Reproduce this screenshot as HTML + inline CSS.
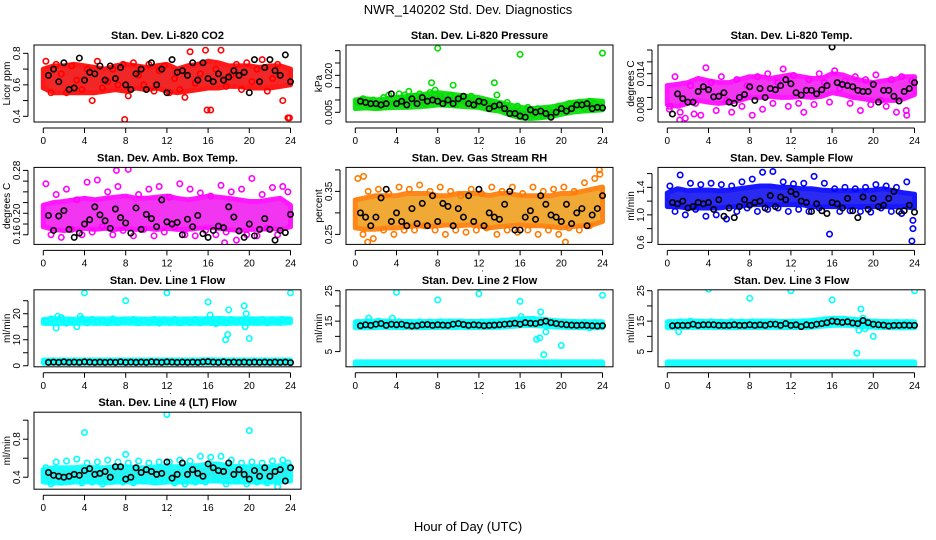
<!DOCTYPE html>
<html><head><meta charset="utf-8"><style>
html,body{margin:0;padding:0;background:#fff;}
svg{display:block;font-family:"Liberation Sans",sans-serif;}
</style></head><body>
<svg id="chart" width="936" height="540" viewBox="0 0 936 540">
<text x="468" y="14" text-anchor="middle" font-size="13">NWR_140202 Std. Dev. Diagnostics</text>
<text x="468" y="531" text-anchor="middle" font-size="13">Hour of Day (UTC)</text>
</svg>
<script>
const xTicks = [0,4,8,12,16,20,24];

const co2Lo = [0.58,0.55,0.55,0.55,0.55,0.55,0.56,0.57,0.56,0.58,0.57,0.58,0.56,0.55,0.56,0.57,0.58,0.58,0.59,0.59,0.58,0.58,0.58,0.59,0.6];
const co2Hi = [0.70,0.72,0.72,0.73,0.72,0.71,0.70,0.72,0.73,0.72,0.71,0.72,0.73,0.70,0.72,0.73,0.75,0.74,0.72,0.72,0.72,0.71,0.72,0.72,0.70];
const co2Pts = [0.75,0.55,0.73,0.67,0.55,0.72,0.63,0.57,0.7,0.5,0.75,0.58,0.62,0.7,0.6,0.73,0.53,0.74,0.66,0.6,0.73,0.56,0.69,0.72,0.55,0.64,0.57,0.52,0.81,0.61,0.67,0.82,0.44,0.7,0.82,0.59,0.66,0.73,0.57,0.74,0.62,0.7,0.76,0.56,0.64,0.73,0.5,0.39];
const co2Blk = [0.66,0.7,0.62,0.74,0.57,0.58,0.77,0.63,0.68,0.67,0.72,0.63,0.72,0.64,0.71,0.6,0.57,0.67,0.70,0.57,0.74,0.6,0.7,0.55,0.76,0.68,0.69,0.66,0.74,0.63,0.74,0.64,0.62,0.67,0.63,0.65,0.69,0.66,0.68,0.55,0.76,0.62,0.71,0.76,0.69,0.66,0.79,0.62];
const co2OutX = [7.9,15.9,23.9];
const co2OutY = [0.38,0.44,0.39];

const prLo = [0.0065,0.0068,0.0065,0.0068,0.0070,0.0070,0.0072,0.0075,0.0080,0.0078,0.0075,0.0072,0.0070,0.0060,0.0055,0.0040,0.0028,0.0025,0.0028,0.0033,0.0042,0.0050,0.0055,0.0057,0.0060];
const prHi = [0.0100,0.0105,0.0100,0.0105,0.0110,0.0115,0.0120,0.0125,0.0130,0.0125,0.0120,0.0115,0.0110,0.0100,0.0090,0.0080,0.0070,0.0065,0.0068,0.0072,0.0080,0.0090,0.0095,0.0098,0.0095];
const prPts = [0.009,0.0105,0.008,0.010,0.0075,0.011,0.012,0.0085,0.0125,0.009,0.010,0.0115,0.0125,0.0085,0.013,0.014,0.0115,0.0095,0.012,0.008,0.0105,0.009,0.0115,0.008,0.0095,0.0085,0.0075,0.012,0.0065,0.009,0.005,0.0075,0.0045,0.007,0.004,0.0065,0.0035,0.006,0.005,0.0075,0.006,0.0085,0.0075,0.009,0.0065,0.0095,0.0085,0.0075];
const prBlk = [0.0095,0.009,0.0085,0.0085,0.008,0.0085,0.0125,0.0085,0.0095,0.008,0.0105,0.0085,0.011,0.0095,0.01,0.0095,0.0085,0.01,0.0085,0.0105,0.0115,0.0085,0.0080,0.0095,0.009,0.0065,0.0075,0.008,0.0065,0.0045,0.0045,0.0035,0.0030,0.0060,0.0050,0.0055,0.0045,0.0030,0.0050,0.0065,0.0055,0.0065,0.0080,0.0080,0.0085,0.0065,0.0070,0.0068];
const prOutX = [8,16,24,13.5,7.4,9.5,5.2,4.8];
const prOutY = [0.031,0.0285,0.029,0.017,0.017,0.016,0.0135,0.012];

const tmLo = [0.0088,0.0085,0.009,0.0095,0.0092,0.0090,0.0092,0.0095,0.0100,0.0100,0.0102,0.0100,0.0100,0.0102,0.0100,0.0102,0.0108,0.0105,0.0100,0.0098,0.0095,0.0095,0.0095,0.0098,0.0105];
const tmHi = [0.0120,0.0122,0.0125,0.0132,0.0128,0.0125,0.0125,0.0130,0.0135,0.0135,0.0132,0.0135,0.0138,0.0135,0.0132,0.0132,0.0140,0.0138,0.0132,0.0128,0.0125,0.0128,0.0130,0.0135,0.0135];
const tmPts = [0.0085,0.0135,0.0075,0.0065,0.0120,0.0090,0.0070,0.0150,0.0125,0.0078,0.0135,0.0095,0.0075,0.0130,0.0085,0.0120,0.0070,0.0135,0.0080,0.0140,0.0090,0.0125,0.0148,0.0085,0.0137,0.0090,0.0075,0.0130,0.0088,0.0140,0.0125,0.0092,0.0145,0.0115,0.0128,0.0090,0.0135,0.0078,0.0130,0.0088,0.0138,0.0095,0.0085,0.0130,0.0075,0.0135,0.0070,0.0128];
const tmBlk = [0.0072,0.0106,0.0098,0.0092,0.0092,0.0110,0.0118,0.0113,0.0101,0.0102,0.0108,0.0092,0.0090,0.0100,0.0105,0.0118,0.0095,0.0115,0.0100,0.0115,0.0113,0.0120,0.0130,0.0123,0.0108,0.0104,0.0112,0.0112,0.0106,0.0113,0.0120,0.0185,0.0125,0.0122,0.0120,0.0118,0.0112,0.0110,0.0110,0.0122,0.0092,0.0112,0.0112,0.0102,0.0094,0.0110,0.0115,0.0125];
const tmOutX = [1.2,2.6,0.2,23.2];
const tmOutY = [0.0062,0.0072,0.0080,0.0078];

const abLo = [0.175,0.170,0.168,0.170,0.172,0.170,0.172,0.170,0.172,0.170,0.172,0.170,0.172,0.170,0.170,0.172,0.174,0.172,0.170,0.168,0.170,0.170,0.172,0.170,0.175];
const abHi = [0.215,0.220,0.222,0.225,0.228,0.225,0.228,0.230,0.232,0.228,0.228,0.230,0.232,0.228,0.225,0.228,0.232,0.230,0.228,0.225,0.222,0.222,0.225,0.228,0.215];
const abPts = [0.255,0.160,0.235,0.155,0.245,0.170,0.225,0.160,0.258,0.165,0.262,0.175,0.240,0.160,0.250,0.168,0.282,0.158,0.235,0.170,0.245,0.158,0.250,0.165,0.230,0.175,0.255,0.160,0.245,0.158,0.238,0.168,0.232,0.160,0.252,0.165,0.240,0.150,0.245,0.160,0.265,0.158,0.235,0.172,0.248,0.160,0.250,0.240];
const abBlk = [0.196,0.168,0.195,0.205,0.170,0.155,0.163,0.180,0.188,0.212,0.197,0.186,0.172,0.208,0.192,0.182,0.163,0.210,0.170,0.198,0.190,0.175,0.225,0.184,0.180,0.183,0.160,0.189,0.175,0.196,0.162,0.155,0.168,0.176,0.173,0.212,0.193,0.167,0.155,0.180,0.158,0.170,0.190,0.170,0.150,0.168,0.164,0.198];
const abOutX = [7.1,17.6];
const abOutY = [0.28,0.145];

const rhLo = [0.265,0.262,0.262,0.265,0.265,0.268,0.270,0.268,0.270,0.272,0.270,0.272,0.270,0.265,0.268,0.270,0.272,0.270,0.270,0.268,0.265,0.268,0.270,0.272,0.280];
const rhHi = [0.33,0.335,0.34,0.34,0.34,0.345,0.345,0.345,0.34,0.34,0.345,0.345,0.345,0.34,0.345,0.345,0.34,0.34,0.34,0.34,0.345,0.345,0.35,0.355,0.36];
const rhPts = [0.38,0.25,0.35,0.24,0.355,0.26,0.345,0.25,0.36,0.26,0.355,0.26,0.365,0.27,0.35,0.26,0.36,0.25,0.35,0.26,0.34,0.255,0.355,0.26,0.345,0.265,0.36,0.25,0.35,0.26,0.36,0.255,0.345,0.26,0.36,0.25,0.35,0.26,0.355,0.25,0.36,0.265,0.35,0.26,0.37,0.27,0.38,0.39];
const rhBlk = [0.30,0.29,0.27,0.29,0.335,0.355,0.28,0.30,0.28,0.27,0.31,0.275,0.322,0.27,0.34,0.28,0.322,0.315,0.27,0.31,0.29,0.34,0.28,0.355,0.27,0.30,0.29,0.285,0.32,0.35,0.26,0.26,0.29,0.305,0.285,0.34,0.32,0.295,0.29,0.28,0.32,0.275,0.30,0.31,0.27,0.295,0.31,0.34];
const rhOutX = [1.2,20.4,0.8,23.7];
const rhOutY = [0.232,0.232,0.385,0.40];

const sfLo = [1.12,1.12,1.1,1.1,1.1,1.1,1.12,1.12,1.15,1.15,1.15,1.15,1.15,1.15,1.12,1.12,1.12,1.12,1.12,1.12,1.12,1.12,1.12,1.12,1.1];
const sfHi = [1.32,1.38,1.35,1.36,1.36,1.35,1.36,1.38,1.40,1.42,1.42,1.40,1.40,1.38,1.38,1.36,1.35,1.35,1.35,1.35,1.36,1.38,1.35,1.32,1.30];
const sfPts = [1.42,1.05,1.58,1.0,1.46,1.08,1.44,0.98,1.46,1.0,1.44,0.94,1.42,1.05,1.48,1.10,1.52,1.05,1.62,1.08,1.63,1.1,1.48,1.05,1.45,1.08,1.46,1.05,1.56,1.10,1.46,0.72,1.38,1.05,1.4,1.06,1.38,1.05,1.40,1.04,1.44,1.1,1.42,1.05,1.4,1.02,1.48,0.62];
const sfBlk = [1.18,1.16,1.20,1.10,1.12,1.18,1.16,1.18,1.08,1.22,0.98,1.10,0.96,1.12,1.22,1.14,1.18,1.20,1.10,1.28,1.12,1.26,1.22,1.34,1.30,1.20,1.18,1.05,1.16,1.06,1.02,1.18,1.16,1.10,1.24,1.06,0.96,1.26,1.08,1.24,1.12,1.14,1.24,1.34,1.05,1.06,1.14,1.04];
const sfOutX = [23.85,23.85];
const sfOutY = [0.92,0.80];

const l1Lo = [16.3,16.2,16.3,16.3,16.4,16.3,16.3,16.3,16.4,16.3,16.3,16.3,16.4,16.3,16.3,16.3,16.4,16.3,16.3,16.4,16.3,16.3,16.4,16.3,16.5];
const l1Hi = [17.8,18.0,18.0,17.9,18.0,18.0,18.0,17.9,18.0,18.0,17.9,18.0,18.0,17.9,18.0,18.0,18.1,18.2,18.0,18.0,18.0,18.0,18.0,18.1,18.0];
const l1Lo2 = [1.0,1.0,1.0,1.0,1.0,1.0,1.0,1.0,1.0,1.0,1.0,1.0,1.0,1.0,1.0,1.0,1.0,1.0,1.0,1.0,1.0,1.0,1.0,1.0,1.0];
const l1Hi2 = [2.2,2.2,2.2,2.2,2.2,2.2,2.2,2.2,2.2,2.2,2.2,2.2,2.2,2.2,2.2,2.2,2.3,2.2,2.2,2.2,2.2,2.2,2.2,2.2,2.2];
const l1Pts = [17.2,18.0,14.5,18.5,16.4,17.5,15.0,18.0,16.5,17.8,16.8,17.3,16.5,18.0,16.6,17.4,16.8,17.8,16.5,17.5,16.6,17.8,16.4,17.5,16.6,17.8,16.5,17.4,16.7,17.8,16.5,17.5,16.6,16.2,17.4,16.5,17.8,16.8,17.5,16.6,17.5,16.7,17.8,16.5,17.6,16.8,17.8,17.5];
const l1Blk = [1.3,1.4,1.3,1.5,1.3,1.4,1.3,1.5,1.4,1.3,1.4,1.3,1.4,1.3,1.5,1.3,1.4,1.3,1.4,1.3,1.5,1.4,1.3,1.5,1.4,1.3,1.4,1.3,1.4,1.3,1.5,1.6,1.4,1.3,1.5,1.3,1.4,1.3,1.4,1.3,1.4,1.3,1.4,1.3,1.4,1.3,1.4,1.2];
const l1OutX = [1.4,3.6,4,8,12,16,16.2,17.7,17.9,18,19.5,19.6,19.7,20,24];
const l1OutY = [19,19,28,25,28,24.5,19.5,10,12,21.5,23,15,20,10.5,28];

const l2Lo = [12.8,12.8,12.9,13.0,12.9,12.9,12.8,12.9,12.9,12.9,13.0,12.9,12.9,12.9,13.0,13.2,13.5,13.6,13.4,13.2,13.0,12.9,12.8,12.8,12.8];
const l2Hi = [14.8,14.9,15.0,15.0,14.9,14.9,14.8,14.9,14.9,15.0,15.0,14.9,14.9,15.0,15.1,15.4,15.8,15.9,15.6,15.3,15.0,14.9,14.8,14.8,14.8];
const l2Lo2 = [0.4,0.4,0.4,0.4,0.4,0.4,0.4,0.4,0.4,0.4,0.4,0.4,0.4,0.4,0.4,0.4,0.4,0.4,0.4,0.4,0.4,0.4,0.4,0.4,0.4];
const l2Hi2 = [1.6,1.6,1.6,1.6,1.6,1.6,1.6,1.6,1.6,1.6,1.6,1.6,1.6,1.6,1.6,1.6,1.6,1.6,1.6,1.6,1.6,1.6,1.6,1.6,1.6];
const l2Pts = [14.5,13.5,14.8,13.2,15.0,13.5,14.6,13.4,14.8,13.3,14.6,13.5,14.8,13.3,14.7,13.5,14.8,13.4,14.6,13.3,14.7,13.4,14.6,13.5,14.7,13.4,14.8,13.5,15.0,13.8,15.2,14.0,15.4,14.2,15.6,14.5,15.2,14.0,14.8,13.6,14.6,13.4,14.5,13.3,14.6,12.8,14.5,13.4];
const l2Blk = [13.5,13.8,13.6,14.0,14.2,13.6,14.0,13.8,14.0,13.6,13.4,13.5,13.8,13.9,13.6,13.8,13.7,13.6,14.0,14.2,13.9,13.6,13.8,13.7,13.5,13.6,13.7,13.8,14.0,14.1,14.3,14.0,14.5,14.3,14.2,14.6,15.0,14.5,14.2,14.0,13.8,13.7,13.6,13.7,13.6,13.5,13.4,13.5];
const l2OutX = [1.3,3.6,4,8,12,16,16.1,17.6,17.9,18,18.3,18.5,20,24];
const l2OutY = [16,16,24.5,22,24,21.5,16.5,9,9.5,18,4,11.5,7,23.5];

const l3Lo = [12.8,12.8,12.9,13.0,12.9,12.9,12.8,12.9,12.9,12.9,13.0,12.9,12.9,12.9,13.0,13.3,13.6,13.7,13.5,13.2,13.0,12.9,12.8,12.8,12.8];
const l3Hi = [14.8,14.9,15.0,15.0,14.9,14.9,14.8,14.9,14.9,15.0,15.0,14.9,14.9,15.0,15.2,15.6,15.9,15.9,15.6,15.3,15.0,14.9,14.8,14.8,14.8];
const l3Lo2 = [0.4,0.4,0.4,0.4,0.4,0.4,0.4,0.4,0.4,0.4,0.4,0.4,0.4,0.4,0.4,0.4,0.4,0.4,0.4,0.4,0.4,0.4,0.4,0.4,0.4];
const l3Hi2 = [1.6,1.6,1.6,1.6,1.6,1.6,1.6,1.6,1.6,1.6,1.6,1.6,1.6,1.6,1.6,1.6,1.6,1.6,1.6,1.6,1.6,1.6,1.6,1.6,1.6];
const l3Pts = [14.5,13.5,14.8,13.2,15.0,13.5,14.6,13.4,14.8,13.3,14.6,13.5,14.8,13.3,14.7,13.5,14.8,13.4,14.6,13.3,14.7,13.4,14.6,13.5,14.7,13.4,14.8,13.5,15.0,13.8,15.2,14.0,15.4,14.2,15.6,14.5,15.2,14.0,14.8,13.6,14.6,13.4,14.5,13.3,14.6,13.2,14.5,13.4];
const l3Blk = [13.5,13.6,13.6,13.6,14.0,13.6,13.8,13.8,13.8,13.6,13.6,13.6,13.8,13.6,13.6,13.8,13.6,13.8,13.6,14.0,14.0,13.6,14.2,13.6,13.8,13.2,13.8,13.6,14.0,14.2,14.5,15.0,14.8,14.6,14.8,14.4,14.2,15.2,14.5,14.0,13.8,13.7,13.4,13.6,13.6,13.7,13.6,13.6];
const l3OutX = [1.1,4,8,12,16,18.4,18.6,18.8,19,19.2,20,24];
const l3OutY = [11.5,25.5,22.5,25,22,4.5,12,19,16,12.5,10,25];

const l4Lo = [0.35,0.34,0.34,0.35,0.35,0.35,0.34,0.35,0.35,0.35,0.35,0.34,0.35,0.35,0.35,0.35,0.36,0.36,0.35,0.35,0.35,0.35,0.35,0.35,0.36];
const l4Hi = [0.48,0.50,0.50,0.50,0.51,0.50,0.50,0.51,0.51,0.50,0.50,0.51,0.51,0.51,0.52,0.52,0.54,0.54,0.52,0.51,0.51,0.51,0.51,0.52,0.52];
const l4Pts = [0.5,0.33,0.56,0.35,0.57,0.36,0.59,0.34,0.55,0.35,0.56,0.33,0.58,0.36,0.56,0.35,0.55,0.34,0.57,0.36,0.55,0.35,0.56,0.36,0.56,0.34,0.58,0.33,0.57,0.35,0.62,0.35,0.61,0.37,0.62,0.33,0.58,0.36,0.55,0.33,0.56,0.35,0.55,0.34,0.57,0.30,0.58,0.55];
const l4Blk = [0.45,0.42,0.41,0.40,0.41,0.43,0.42,0.47,0.49,0.43,0.44,0.46,0.40,0.51,0.51,0.38,0.40,0.50,0.45,0.48,0.46,0.43,0.44,0.56,0.39,0.43,0.55,0.43,0.48,0.44,0.41,0.54,0.50,0.47,0.46,0.55,0.43,0.48,0.43,0.38,0.47,0.41,0.50,0.41,0.46,0.48,0.36,0.50];
const l4OutX = [4,8,12,20];
const l4OutY = [0.87,0.64,1.06,0.89];

const co2Ticks = [0.4,0.5,0.6,0.7,0.8];  const co2Labels = ["0.4","","0.6","","0.8"];
const prTicks = [0.005,0.010,0.015,0.020,0.025,0.030]; const prLabels = ["0.005","","","0.020","",""];
const tmTicks = [0.008,0.010,0.012,0.014,0.016,0.018]; const tmLabels = ["0.008","","","0.014","",""];
const abTicks = [0.16,0.18,0.20,0.22,0.24,0.26,0.28]; const abLabels = ["0.16","","0.20","","","","0.28"];
const rhTicks = [0.25,0.30,0.35,0.40]; const rhLabels = ["0.25","","0.35",""];
const sfTicks = [0.6,0.8,1.0,1.2,1.4,1.6]; const sfLabels = ["0.6","","1.0","","1.4",""];
const l1Ticks = [0,5,10,15,20,25]; const l1Labels = ["0","","10","","20",""];
const l2Ticks = [5,10,15,20,25]; const l2Labels = ["5","","15","","25"];
const l4Ticks = [0.4,0.6,0.8,1.0]; const l4Labels = ["0.4","","0.8",""];

const panels = [
 {name:"co2",title:"Stan. Dev. Li-820 CO2",ylab:"Licor ppm",col:0,row:0,ymin:0.364,ymax:0.853,color:"#ff0000",band:"#f01010",lo:co2Lo,hi:co2Hi,pts:co2Pts,blk:co2Blk,ox:co2OutX,oy:co2OutY,ticks:co2Ticks,labels:co2Labels},
 {name:"pressure",title:"Stan. Dev. Li-820 Pressure",ylab:"kPa",col:1,row:0,ymin:0.00107,ymax:0.0323,color:"#00dd00",band:"#10c010",lo:prLo,hi:prHi,pts:prPts,blk:prBlk,ox:prOutX,oy:prOutY,ticks:prTicks,labels:prLabels},
 {name:"li820-temp",title:"Stan. Dev. Li-820 Temp.",ylab:"degrees C",col:2,row:0,ymin:0.00586,ymax:0.01884,color:"#ff00ff",band:"#f020f0",lo:tmLo,hi:tmHi,pts:tmPts,blk:tmBlk,ox:tmOutX,oy:tmOutY,ticks:tmTicks,labels:tmLabels},
 {name:"amb-box-temp",title:"Stan. Dev. Amb. Box Temp.",ylab:"degrees C",col:0,row:1,ymin:0.142,ymax:0.2856,color:"#ff00ff",band:"#f020f0",lo:abLo,hi:abHi,pts:abPts,blk:abBlk,ox:abOutX,oy:abOutY,ticks:abTicks,labels:abLabels},
 {name:"gas-rh",title:"Stan. Dev. Gas Stream RH",ylab:"percent",col:1,row:1,ymin:0.2267,ymax:0.4058,color:"#ff7a00",band:"#f0a020",lo:rhLo,hi:rhHi,pts:rhPts,blk:rhBlk,ox:rhOutX,oy:rhOutY,ticks:rhTicks,labels:rhLabels},
 {name:"sample-flow",title:"Stan. Dev. Sample Flow",ylab:"ml/min",col:2,row:1,ymin:0.571,ymax:1.69,color:"#0000ff",band:"#1414f0",lo:sfLo,hi:sfHi,pts:sfPts,blk:sfBlk,ox:sfOutX,oy:sfOutY,ticks:sfTicks,labels:sfLabels},
 {name:"line1-flow",title:"Stan. Dev. Line 1 Flow",ylab:"ml/min",col:0,row:2,ymin:-0.4,ymax:29.2,color:"#00ffff",band:"#10f0f0",lo:l1Lo,hi:l1Hi,lo2:l1Lo2,hi2:l1Hi2,pts:l1Pts,blk:l1Blk,ox:l1OutX,oy:l1OutY,ticks:l1Ticks,labels:l1Labels},
 {name:"line2-flow",title:"Stan. Dev. Line 2 Flow",ylab:"ml/min",col:1,row:2,ymin:0,ymax:25.3,color:"#00ffff",band:"#10f0f0",lo:l2Lo,hi:l2Hi,lo2:l2Lo2,hi2:l2Hi2,pts:l2Pts,blk:l2Blk,ox:l2OutX,oy:l2OutY,ticks:l2Ticks,labels:l2Labels},
 {name:"line3-flow",title:"Stan. Dev. Line 3 Flow",ylab:"ml/min",col:2,row:2,ymin:0,ymax:25.3,color:"#00ffff",band:"#10f0f0",lo:l3Lo,hi:l3Hi,lo2:l3Lo2,hi2:l3Hi2,pts:l3Pts,blk:l3Blk,ox:l3OutX,oy:l3OutY,ticks:l2Ticks,labels:l2Labels},
 {name:"line4-flow",title:"Stan. Dev. Line 4 (LT) Flow",ylab:"ml/min",col:0,row:3,ymin:0.274,ymax:1.084,color:"#00ffff",band:"#10f0f0",lo:l4Lo,hi:l4Hi,pts:l4Pts,blk:l4Blk,ox:l4OutX,oy:l4OutY,ticks:l4Ticks,labels:l4Labels}
];

const NS = "http://www.w3.org/2000/svg";
const svg = document.getElementById("chart");
function mk(tag, attrs, parent){
  const e = document.createElementNS(NS, tag);
  for (const k in attrs) e.setAttribute(k, attrs[k]);
  parent.appendChild(e);
  return e;
}
const BOX_W = 267, BOX_H = 77;
panels.forEach(p => {
  const bx = 34 + p.col*312, by = 45 + p.row*122.4;
  const g = mk("g", {}, svg);
  
  
  const xs = h => bx + 9.3 + h*10.3;
  const ys = v => by + BOX_H - (v - p.ymin)/(p.ymax - p.ymin)*BOX_H;
  const clip = "clip-" + p.name;
  const cp = mk("clipPath", {id: clip}, g);
  mk("rect", {x: bx, y: by, width: BOX_W, height: BOX_H}, cp);
  const plot = mk("g", {"clip-path": "url(#" + clip + ")"}, g);
  
  
  function band(lo, hi){
    let d = "";
    for (let i = 0; i < lo.length; i++) d += (i ? "L" : "M") + xs(i).toFixed(1) + "," + ys(hi[i]).toFixed(1);
    for (let i = lo.length-1; i >= 0; i--) d += "L" + xs(i).toFixed(1) + "," + ys(lo[i]).toFixed(1);
    const b = mk("path", {d: d + "Z", fill: p.band, stroke: p.color, "stroke-width": 5, "stroke-linejoin": "round", opacity: 0.9}, plot);
    
    
  }
  band(p.lo, p.hi);
  if (p.lo2) band(p.lo2, p.hi2);
  p.pts.forEach((v, i) => {
    const c = mk("circle", {cx: xs(0.25 + i*0.5), cy: ys(v), r: 2.7, fill: "none", stroke: p.color, "stroke-width": 1.6}, plot);
    
    
  });
  p.ox.forEach((x, i) => {
    const c = mk("circle", {cx: xs(x), cy: ys(p.oy[i]), r: 2.7, fill: "none", stroke: p.color, "stroke-width": 1.6}, plot);
    
    
  });
  p.blk.forEach((v, i) => {
    const c = mk("circle", {cx: xs(0.5 + i*0.5), cy: ys(v), r: 2.7, fill: "none", stroke: "#000", "stroke-width": 1.6}, plot);
    
    
  });
  const box = mk("rect", {x: bx, y: by, width: BOX_W, height: BOX_H, fill: "none", stroke: "#000", "stroke-width": 1}, g);
  
  
  const t = mk("text", {x: bx + BOX_W/2, y: by - 6, "text-anchor": "middle", "font-size": 11, "font-weight": "bold"}, g);
  t.textContent = p.title;
  
  
  // x axis
  const xb = by + BOX_H;
  mk("line", {x1: xs(0), x2: xs(24), y1: xb + 6, y2: xb + 6, stroke: "#000"}, g);
  xTicks.forEach(h => {
    mk("line", {x1: xs(h), x2: xs(h), y1: xb + 6, y2: xb + 11, stroke: "#000"}, g);
    const l = mk("text", {x: xs(h), y: xb + 22, "text-anchor": "middle", "font-size": 10}, g);
    l.textContent = h;
    
    
  });
  const dot = mk("text", {x: bx + BOX_W/2 + 3, y: xb + 27, "text-anchor": "middle", "font-size": 9}, g);
  dot.textContent = ".";
  // y axis
  const ya = bx - 6;
  mk("line", {x1: ya, x2: ya, y1: ys(p.ticks[0]), y2: ys(p.ticks[p.ticks.length-1]), stroke: "#000"}, g);
  p.ticks.forEach((v, i) => {
    const y = ys(v);
    mk("line", {x1: ya - 5, x2: ya, y1: y, y2: y, stroke: "#000"}, g);
    if (p.labels[i]) {
      const l = mk("text", {x: 0, y: 0, "text-anchor": "middle", "font-size": 10, transform: "translate(" + (ya - 8) + "," + y + ") rotate(-90)"}, g);
      l.textContent = p.labels[i];
      
      
    }
  });
  const yl = mk("text", {x: 0, y: 0, "text-anchor": "middle", "font-size": 10, transform: "translate(" + (bx - 24) + "," + (by + BOX_H/2) + ") rotate(-90)"}, g);
  yl.textContent = p.ylab;
  
  
});
</script>
</body></html>
